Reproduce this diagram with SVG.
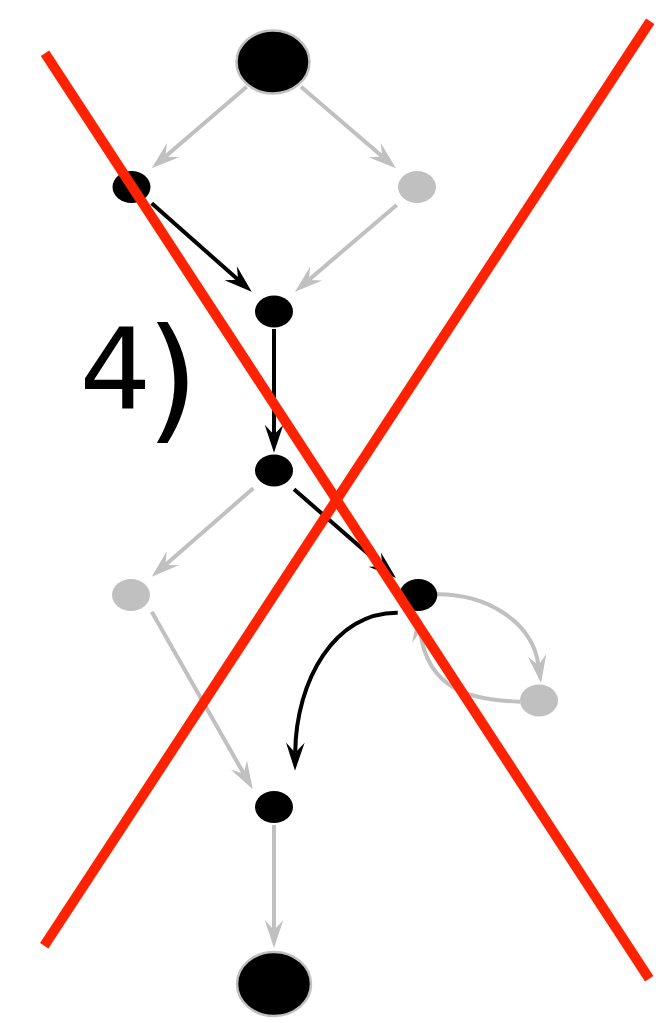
<svg xmlns="http://www.w3.org/2000/svg" width="667" height="1023" viewBox="0 0 667 1023">
<style>
  .bg{fill:#ffffff}
  .nb{fill:#000000}
  .ng{fill:#c0c0c0}
  .big{fill:#000000;stroke:#c0c0c0;stroke-width:2.5}
  .eg{fill:none;stroke:#c0c0c0;stroke-width:4}
  .eb{fill:none;stroke:#000000;stroke-width:4}
  .eg{marker-end:url(#ag)}
  .eb{marker-end:url(#ab)}
  .x{stroke:#ff2200;stroke-width:10;fill:none}
  .lbl{font-family:"DejaVu Sans",sans-serif;fill:#000000}
</style>
<defs>
  <marker id="ag" viewBox="0 0 30 20" refX="10" refY="10" markerWidth="30" markerHeight="20" markerUnits="userSpaceOnUse" orient="auto" overflow="visible">
    <path d="M28,10 L0,0.7 L10,10 L0,19.3 Z" fill="#c0c0c0"/>
  </marker>
  <marker id="ab" viewBox="0 0 30 20" refX="10" refY="10" markerWidth="30" markerHeight="20" markerUnits="userSpaceOnUse" orient="auto" overflow="visible">
    <path d="M28,10 L0,0.7 L10,10 L0,19.3 Z" fill="#000000"/>
  </marker>
</defs>
<rect class="bg" x="0" y="0" width="667" height="1023"/>
<g id="connectors">
  <path class="eg" d="M246.7,86.7 L165.4,156.6"/>
  <path class="eg" d="M301,86.7 L382.3,156.6"/>
  <path class="eb" d="M151.7,203.3 L238.2,279.8"/>
  <path class="eg" d="M396.7,205 L308.7,280"/>
  <path class="eb" d="M274,329 L274,434.7"/>
  <path class="eg" d="M253.3,488.3 L165.3,564.9"/>
  <path class="eb" d="M294,489.3 L382.4,566.2"/>
  <path class="eg" d="M151.7,611.7 L243.8,773.7"/>
  <path class="eg" d="M274,825 L274,930"/>
  <path class="eg" d="M436.7,594.3 C485,594 532,620 538.5,665.3"/>
  <path class="eg" d="M520,701.7 C470,700 428,690 420.1,631.6"/>
  <path class="eb" d="M397.7,612.7 C335,612 296,680 295.2,752.7"/>
</g>
<g id="n_top"><ellipse class="big" cx="273" cy="62" rx="36.5" ry="31.5"/></g>
<g id="n_a"><ellipse class="nb" cx="131.5" cy="187" rx="19" ry="16"/></g>
<g id="n_b"><ellipse class="ng" cx="417" cy="187" rx="19" ry="16"/></g>
<g id="n_c"><ellipse class="nb" cx="274" cy="311.5" rx="19" ry="16"/></g>
<g id="n_d"><ellipse class="nb" cx="274" cy="470.5" rx="19" ry="16"/></g>
<g id="n_e"><ellipse class="ng" cx="131" cy="595" rx="19" ry="16"/></g>
<g id="n_f"><ellipse class="nb" cx="418.3" cy="595" rx="19" ry="16"/></g>
<g id="n_g"><ellipse class="ng" cx="539" cy="700.5" rx="19" ry="16"/></g>
<g id="n_h"><ellipse class="nb" cx="274" cy="807" rx="19" ry="16"/></g>
<g id="n_bottom"><ellipse class="big" cx="274" cy="984" rx="37" ry="32"/></g>
<g id="label"><text class="lbl" x="79.5" y="408" font-size="113">4<tspan x="146" dy="17" font-size="136">)</tspan></text></g>
<g id="cross">
  <line class="x" x1="45" y1="53.3" x2="649.2" y2="978.8"/>
  <line class="x" x1="44.2" y1="945.8" x2="650.2" y2="21.2"/>
</g>
</svg>
